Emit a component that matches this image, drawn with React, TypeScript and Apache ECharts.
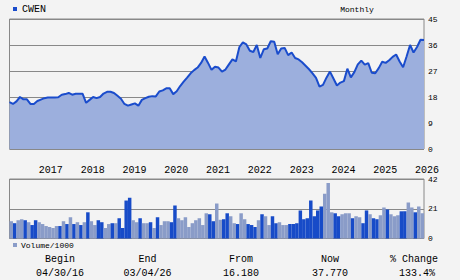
import React, { useEffect, useRef } from "react";
import * as echarts from "echarts";

// ---- data ----
const tickYears = ["2017", "2018", "2019", "2020", "2021", "2022", "2023", "2024", "2025", "2026"];
const startYear = 2016;
const startMonth = 4; // April 2016
const monthCount = 120;

const priceValues = [
  16.2, 15.6, 16.5, 18.0, 17.2, 17.2, 15.6, 15.6, 16.6, 17.1, 17.6, 17.8,
  17.8, 17.8, 17.9, 18.8, 19.0, 19.4, 18.8, 19.1, 19.1, 19.1, 16.0, 17.0,
  18.0, 17.6, 18.0, 19.2, 19.8, 19.8, 19.4, 18.4, 17.4, 15.6, 15.0, 15.4,
  15.8, 15.0, 17.0, 17.6, 18.1, 18.3, 18.2, 19.9, 20.3, 21.0, 21.0, 19.0,
  20.0, 21.8, 23.3, 24.7, 26.2, 27.3, 28.2, 29.8, 32.0, 29.8, 27.4, 28.5,
  28.2, 26.8, 27.5, 29.3, 31.0, 30.3, 35.3, 36.9, 36.2, 34.0, 33.6, 36.0,
  31.5, 34.5, 34.8, 37.3, 37.1, 32.8, 34.8, 35.0, 32.5, 33.4, 31.5, 31.0,
  30.0, 28.8, 27.6, 26.2, 24.6, 21.6, 22.2, 24.7, 26.8, 24.4, 22.0, 23.0,
  23.5, 27.8, 24.8, 26.6, 29.3, 30.6, 29.2, 29.7, 26.4, 26.2, 28.0, 30.2,
  29.8, 30.7, 31.9, 32.7, 30.3, 28.3, 32.0, 36.0, 33.4, 35.3, 37.8, 37.77,
];

const volumeValues = [
  12.2, 10.8, 12.9, 13.6, 12.9, 11.5, 9.5, 12.9, 11.5, 10.2, 8.8, 8.1,
  7.4, 8.8, 8.8, 12.2, 10.2, 15.0, 10.2, 11.5, 9.5, 11.5, 18.5, 12.2,
  9.5, 12.9, 11.5, 7.4, 10.2, 10.8, 10.8, 14.3, 7.4, 26.8, 28.8, 12.9,
  11.5, 14.3, 10.8, 10.8, 11.5, 7.4, 15.0, 9.5, 12.2, 12.2, 11.5, 23.3,
  14.3, 12.9, 15.0, 8.1, 10.8, 12.9, 14.3, 9.5, 17.8, 17.1, 12.2, 24.7,
  13.2, 13.6, 17.8, 15.7, 10.8, 10.2, 17.8, 13.6, 10.2, 9.5, 8.1, 12.9,
  17.1, 15.7, 9.5, 15.7, 10.8, 11.5, 9.5, 9.5, 10.2, 10.2, 10.8, 19.8,
  13.6, 14.3, 26.8, 15.7, 19.8, 22.6, 31.6, 39.2, 18.5, 17.8, 15.7, 17.1,
  17.8, 17.8, 14.3, 15.7, 15.0, 10.8, 19.8, 17.1, 14.3, 13.6, 16.4, 21.9,
  20.5, 17.1, 15.7, 16.4, 19.2, 19.2, 25.4, 21.9, 18.5, 22.6, 17.8,
];

// 1 = dark (up) bar, 0 = light bar
const volumeUp = [
  0, 1, 0, 0, 1, 0, 1, 1, 0, 0, 0, 0,
  0, 0, 1, 0, 1, 0, 1, 0, 1, 0, 1, 0,
  0, 1, 1, 0, 0, 1, 0, 1, 1, 1, 1, 0,
  0, 1, 0, 0, 1, 0, 1, 0, 0, 0, 1, 1,
  0, 0, 0, 0, 0, 0, 0, 0, 0, 1, 1, 0,
  0, 1, 1, 0, 0, 1, 0, 0, 1, 1, 1, 0,
  1, 0, 0, 1, 1, 0, 0, 0, 1, 1, 1, 1,
  1, 1, 1, 1, 1, 1, 0, 0, 0, 1, 1, 0,
  0, 0, 1, 0, 0, 1, 1, 0, 1, 1, 0, 0,
  1, 0, 0, 0, 1, 1, 0, 0, 1, 0, 0,
];

const priceTicks = [0, 9, 18, 27, 36, 45];
const volumeTicks = [0, 21, 42];

const summaryHeaders = ["Begin", "End", "From", "Now", "% Change"];
const summaryValues = ["04/30/16", "03/04/26", "16.180", "37.770", "133.4%"];

// ---- styling ----
const BG = "#f3f3f3";
const GRID = "#888888";
const LINE = "#1a4ccc";
const AREA = "#9cafdd";
const DARK = "#174bc8";
const LIGHT = "#8a9cc8";
const MONO = "'Liberation Mono', 'DejaVu Sans Mono', monospace";

export default function App() {
  const ref = useRef<HTMLDivElement>(null);

  useEffect(() => {
    if (!ref.current) return;
    const chart = echarts.init(ref.current, null, { renderer: "svg" });

    const months: string[] = [];
    for (let i = 0; i < monthCount; i++) {
      const m0 = startMonth - 1 + i;
      const y = startYear + Math.floor(m0 / 12);
      const m = (m0 % 12) + 1;
      months.push(`${y}-${m < 10 ? "0" + m : m}`);
    }
    const volCats = volumeValues.map((_, i) => months[i]);

    const left = 9.5;
    const width = 414.5;
    const summaryX = [60, 147.5, 241, 330, 414];

    const graphics: any[] = [
      { type: "rect", shape: { x: 13, y: 7, width: 4, height: 4 }, style: { fill: LINE } },
      { type: "text", x: 22, y: 9.5, style: { text: "CWEN", font: `10px ${MONO}`, fill: "#000", align: "left", verticalAlign: "middle" } },
      { type: "text", x: 357, y: 9.5, style: { text: "Monthly", font: `8px ${MONO}`, fill: "#000", align: "center", verticalAlign: "middle" } },
      { type: "rect", shape: { x: 13, y: 243, width: 4, height: 4 }, style: { fill: LIGHT } },
      { type: "text", x: 21, y: 245.5, style: { text: "Volume/1000", font: `8px ${MONO}`, fill: "#000", align: "left", verticalAlign: "middle" } },
    ];
    summaryHeaders.forEach((h, i) => {
      graphics.push({ type: "text", x: summaryX[i], y: 259.5, style: { text: h, font: `10px ${MONO}`, fill: "#000", align: "center", verticalAlign: "middle" } });
      graphics.push({ type: "text", x: summaryX[i] + (i === 4 ? 3 : 0), y: 273.5, style: { text: summaryValues[i], font: `10px ${MONO}`, fill: "#000", align: "center", verticalAlign: "middle" } });
    });

    chart.setOption({
      animation: false,
      backgroundColor: BG,
      textStyle: { fontFamily: MONO },
      grid: [
        { left, top: 19, width, height: 130, show: true, borderColor: GRID, borderWidth: 1, backgroundColor: BG },
        { left, top: 179, width, height: 59.5, show: true, borderColor: GRID, borderWidth: 1, backgroundColor: BG },
      ],
      xAxis: [
        {
          type: "category",
          gridIndex: 0,
          data: months,
          boundaryGap: false,
          axisLine: { show: false },
          axisTick: { show: false },
          splitLine: { show: false },
          axisLabel: {
            interval: (_: number, v: string) => v.endsWith("-01") && tickYears.includes(v.slice(0, 4)),
            formatter: (v: string) => v.slice(0, 4),
            align: "left",
            margin: 16,
            color: "#000",
            fontSize: 10,
            fontFamily: MONO,
            padding: [0, 0, 0, -2],
          },
        },
        {
          type: "category",
          gridIndex: 1,
          data: volCats,
          boundaryGap: true,
          axisLine: { show: false },
          axisTick: { show: false },
          axisLabel: { show: false },
          splitLine: { show: false },
        },
      ],
      yAxis: [
        {
          type: "value",
          gridIndex: 0,
          position: "right",
          min: priceTicks[0],
          max: priceTicks[priceTicks.length - 1],
          interval: 9,
          axisLine: { show: false },
          axisTick: { show: false },
          splitLine: { show: true, lineStyle: { color: GRID, width: 1 } },
          axisLabel: { color: "#000", fontSize: 8, fontFamily: MONO, margin: 4, padding: [4, 0, 0, 0] },
        },
        {
          type: "value",
          gridIndex: 1,
          position: "right",
          min: volumeTicks[0],
          max: volumeTicks[volumeTicks.length - 1],
          interval: 21,
          axisLine: { show: false },
          axisTick: { show: false },
          splitLine: { show: true, lineStyle: { color: GRID, width: 1 } },
          axisLabel: { color: "#000", fontSize: 8, fontFamily: MONO, margin: 4, padding: [4, 0, 0, 0] },
        },
      ],
      series: [
        {
          type: "line",
          xAxisIndex: 0,
          yAxisIndex: 0,
          data: priceValues,
          symbol: "none",
          lineStyle: { color: LINE, width: 2 },
          areaStyle: { color: AREA, opacity: 1 },
          z: 3,
        },
        {
          type: "bar",
          xAxisIndex: 1,
          yAxisIndex: 1,
          data: volumeValues.map((v, i) => ({ value: v, itemStyle: { color: volumeUp[i] ? DARK : LIGHT, borderWidth: 0 } })),
          barCategoryGap: "0%",
          barGap: "0%",
          barWidth: "100%",
          z: 3,
        },
      ],
      graphic: graphics,
    });

    return () => chart.dispose();
  }, []);

  return <div ref={ref} style={{ position: "fixed", left: 0, top: 0, width: 460, height: 280 }} />;
}
